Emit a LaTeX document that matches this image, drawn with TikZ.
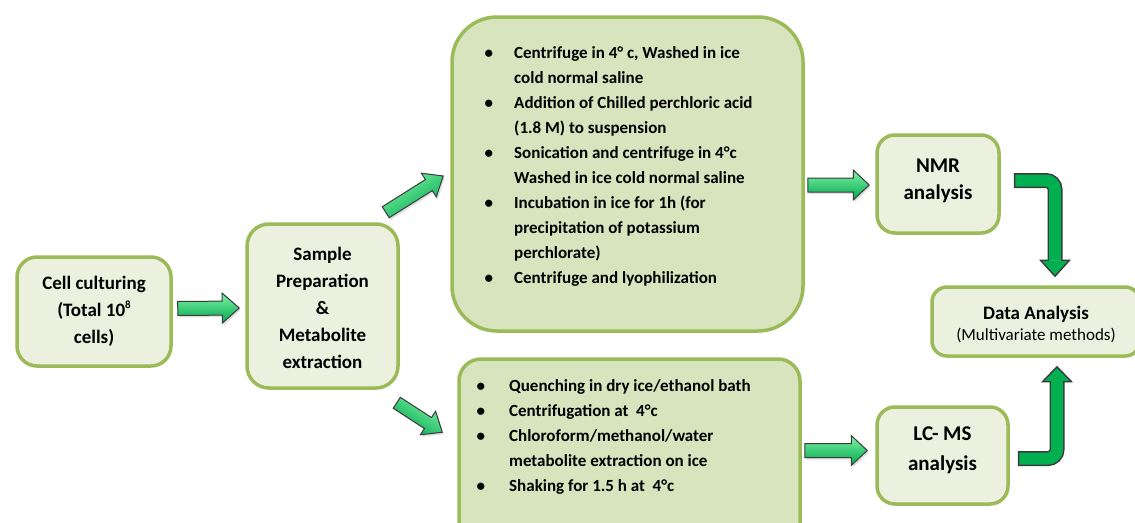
\documentclass[tikz,border=0pt]{standalone}
\usepackage{fontspec}
\setmainfont{Carlito}
\usetikzlibrary{calc,shadows}
\definecolor{boxline}{HTML}{9BBB59}
\definecolor{boxfill}{HTML}{EBF1DE}
\definecolor{boxfilldk}{HTML}{D7E4BD}
\definecolor{arrlight}{HTML}{7EF2A4}
\definecolor{arrdark}{HTML}{00A84F}
\definecolor{arrline}{HTML}{3A3A3A}
\definecolor{bentfill}{HTML}{00B050}
\newcommand{\bgap}[1]{\makebox[0pt][r]{\textbullet\hspace{#1}}}
\newcommand{\blockarrow}[6]{%
  \coordinate (bh) at ($(#3)!#6!(#2)$);
  \path[#1] ($(#2)!#4!90:(#3)$) -- ($(bh)!#4!90:(#3)$) -- ($(bh)!#5!90:(#3)$) -- (#3)
    -- ($(bh)!#5!-90:(#3)$) -- ($(bh)!#4!-90:(#3)$) -- ($(#2)!#4!-90:(#3)$) -- cycle;}
\newcommand{\bentarrowhead}[2]{%
  \fill[bentfill] ($(#1)+(-14.5,0)$) -- ($(#1)+(14.5,0)$) -- (#2) -- cycle;
  \draw[arrline, line width=1.4pt, line join=miter] ($(#1)+(-6,0)$) -- ($(#1)+(-14.5,0)$) -- (#2) -- ($(#1)+(14.5,0)$) -- ($(#1)+(6,0)$);}
\tikzset{
 box/.style={draw=boxline, line width=3.5pt, fill=boxfill, inner sep=0pt, align=center,
   font=\bfseries\fontsize{19}{27}\selectfont},
 boxdk/.style={box, fill=boxfilldk},
 blockarr/.style={draw=arrline, line width=1pt, line join=miter, top color=arrlight,
   bottom color=arrdark, shading angle=#1,
   drop shadow={opacity=0.25, shadow xshift=1.5pt, shadow yshift=-2pt}},
 blockarr/.default=0,
 bentout/.style={draw=arrline, line width=15pt, rounded corners=9pt},
 bentin/.style={draw=bentfill, line width=12pt, rounded corners=9pt},
 listtext/.style={inner sep=0pt, align=left, anchor=north west,
   font=\bfseries\fontsize{17}{25}\selectfont},
}
\begin{document}
\begin{tikzpicture}[x=1pt,y=-1pt]
\useasboundingbox (0,0) rectangle (1135,522);
\clip (0,0) rectangle (1135,522);
\fill[white] (0,0) rectangle (1135,522);

% boxes
\node[box, rounded corners=20pt, minimum width=154pt, minimum height=109pt] (cell) at (94,311.5)
  {Cell culturing\\(Total 10\raisebox{8pt}{\fontsize{11}{11}\selectfont 8}\\cells)};
\node[box, rounded corners=22pt, minimum width=151pt, minimum height=164pt] (samp) at (322.5,306)
  {\rule{0pt}{17.5pt}Sample\\Preparation\\\&\\Metabolite\\extraction};
\node[boxdk, rounded corners=45pt, minimum width=351pt, minimum height=314pt] (top) at (627.5,174) {};
\node[boxdk, rounded corners=22pt, minimum width=341pt, minimum height=190pt] (bot) at (629.5,454) {};
\node[box, rounded corners=18pt, minimum width=122pt, minimum height=98pt,
  font=\bfseries\fontsize{21}{27}\selectfont] (nmr) at (938,184) {NMR\\analysis\rule[-10.5pt]{0pt}{1pt}};
\node[box, rounded corners=18pt, minimum width=131pt, minimum height=97pt,
  font=\bfseries\fontsize{21}{30}\selectfont] (lcms) at (942.5,455.5) {LC- MS\\analysis\rule[-14.5pt]{0pt}{1pt}};
\node[box, rounded corners=15pt, minimum width=208pt, minimum height=69pt,
  font=\fontsize{17}{21}\selectfont] (data) at (1036,321.5)
  {\rule{0pt}{19.5pt}{\bfseries\fontsize{19}{21}\selectfont Data Analysis}\\(Multivariate methods)};

% list texts
\node[listtext] (toptext) at (514,46) {\bgap{21pt}Centrifuge in 4° c, Washed in ice\\
  cold normal saline\\
  \bgap{21pt}Addition of Chilled perchloric acid\\
  (1.8 M) to suspension\\
  \bgap{21pt}Sonication and centrifuge in 4°c\\
  Washed in ice cold normal saline\\
  \bgap{21pt}Incubation in ice for 1h (for\\
  precipitation of potassium\\
  perchlorate)\\
  \bgap{21pt}Centrifuge and lyophilization};
\node[listtext] (bottext) at (509,379) {\bgap{24pt}Quenching in dry ice/ethanol bath\\
  \bgap{24pt}Centrifugation at~ 4°c\\
  \bgap{24pt}Chloroform/methanol/water\\
  metabolite extraction on ice\\
  \bgap{24pt}Shaking for 1.5 h at~ 4°c};

% block arrows
\coordinate (a1s) at ($(cell.east)+(5,-3)$);
\coordinate (a1e) at ($(samp.west)+(-6,2)$);
\blockarrow{blockarr=0}{a1s}{a1e}{7pt}{15pt}{17pt}
\coordinate (a2s) at ($(samp.north east)+(-14,-10)$);
\coordinate (a2e) at ($(top.west)+(-7,2)$);
\blockarrow{blockarr=32}{a2s}{a2e}{6.5pt}{14pt}{17pt}
\coordinate (a3s) at ($(samp.south east)+(-3,13)$);
\coordinate (a3e) at ($(bot.north west)+(-15,75)$);
\blockarrow{blockarr=-33}{a3s}{a3e}{6.5pt}{14pt}{17pt}
\coordinate (a4s) at ($(top.east |- nmr.west)+(3,1)$);
\coordinate (a4e) at ($(nmr.west)+(-6,1)$);
\blockarrow{blockarr=0}{a4s}{a4e}{7pt}{15pt}{16pt}
\coordinate (a5s) at ($(bot.east |- lcms.west)+(3,-5)$);
\coordinate (a5e) at ($(lcms.west)+(-8,-5)$);
\blockarrow{blockarr=0}{a5s}{a5e}{7pt}{15pt}{16pt}

% bent arrows
\coordinate (b1s) at ($(nmr.east)+(13,-3.5)$);
\coordinate (b1t) at ($(data.north)+(19,-9)$);
\coordinate (b1h) at ($(b1t)+(0,-16)$);
\draw[bentout] (b1s) -| (b1h);
\draw[bentin, shorten <=1.5pt] (b1s) -| (b1h);
\bentarrowhead{b1h}{b1t}
\coordinate (b2s) at ($(lcms.east)+(8,3)$);
\coordinate (b2t) at ($(data.south)+(21,9)$);
\coordinate (b2h) at ($(b2t)+(0,15)$);
\draw[bentout] (b2s) -| (b2h);
\draw[bentin, shorten <=1.5pt] (b2s) -| (b2h);
\bentarrowhead{b2h}{b2t}
\end{tikzpicture}
\end{document}
